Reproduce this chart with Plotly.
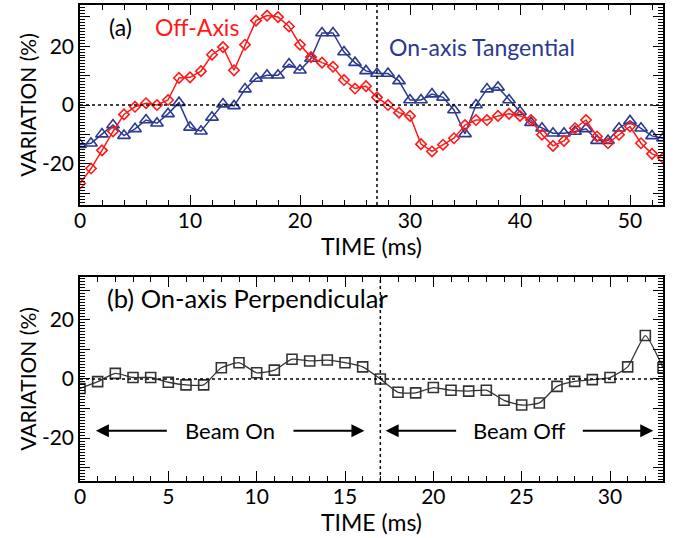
import plotly.graph_objects as go

# ---- data -------------------------------------------------------------
time_a = list(range(54))          # ms
off_axis = [-26.7, -21.6, -15.4, -9.0, -3.2, -0.6, 0.6, 0.0, 1.7, 9.2,
            9.4, 11.5, 17.1, 19.7, 11.8, 20.5, 28.7, 30.4, 29.9, 26.7,
            20.5, 16.3, 14.4, 13.0, 8.5, 5.6, 6.4, 2.6, 0.0, -2.6,
            -3.7, -13.3, -15.8, -13.5, -11.3, -6.8, -5.1, -5.1, -3.7, -3.0,
            -3.7, -5.1, -10.1, -13.9, -12.2, -7.9, -5.1, -10.7, -13.0, -10.1,
            -7.3, -13.0, -16.6, -18.0]
on_axis_tangential = [-13.5, -13.0, -9.9, -6.8, -10.4, -8.1, -5.1, -6.2, -3.0, 0.8,
                      -7.6, -8.9, -4.2, 0.3, -0.3, 5.4, 9.0, 10.1, 10.1, 13.9,
                      11.8, 15.8, 24.5, 24.5, 18.0, 14.4, 11.6, 10.7, 10.7, 8.2,
                      1.7, 1.7, 3.7, 2.6, -1.7, -9.8, 0.0, 5.4, 6.0, 1.7,
                      -2.3, -6.0, -7.9, -9.6, -9.6, -9.0, -8.1, -12.1, -12.1, -7.9,
                      -5.4, -7.9, -10.5, -11.3]

time_b = list(range(34))          # ms
on_axis_perpendicular = [-3.2, -0.9, 1.9, 0.5, 0.5, -1.1, -2.0, -2.0, 3.8, 5.5,
                         2.1, 3.0, 6.7, 6.1, 6.4, 5.5, 4.1, 0.0, -4.5, -4.7,
                         -2.9, -3.8, -4.1, -3.8, -7.2, -8.8, -8.1, -2.5, -0.8, -0.2,
                         0.5, 4.1, 14.7, 3.8]

marker_time_a = 27                # dotted time marker, panel (a)
marker_time_b = 17                # beam switch-off time, panel (b)
beam_on_span = (0.9, 16.1)
beam_off_span = (17.3, 32.45)
beam_arrow_level = -17.5

y_tick_vals = [-30, -20, -10, 0, 10, 20, 30]
y_tick_text = ["", "-20", "", "0", "", "20", ""]

FONT = "Lato"
RED = "#ff1a1a"
NAVY = "#2b3990"
DARK = "#333333"

fig = go.Figure()

fig.add_trace(go.Scatter(
    x=time_a, y=on_axis_tangential, mode="lines+markers",
    line=dict(color=NAVY, width=1.5),
    marker=dict(symbol="triangle-up-open", size=11, color=NAVY, line=dict(width=1.6)),
    xaxis="x", yaxis="y", showlegend=False))
fig.add_trace(go.Scatter(
    x=time_a, y=off_axis, mode="lines+markers",
    line=dict(color=RED, width=1.5),
    marker=dict(symbol="diamond-open", size=8, color=RED, line=dict(width=1.6)),
    xaxis="x", yaxis="y", showlegend=False))
fig.add_trace(go.Scatter(
    x=time_b, y=on_axis_perpendicular, mode="lines+markers",
    line=dict(color=DARK, width=1.3, shape="spline", smoothing=0.5),
    marker=dict(symbol="square-open", size=10, color=DARK, line=dict(width=1.6)),
    xaxis="x2", yaxis="y2", showlegend=False, cliponaxis=True))

dot = dict(color="black", width=1.5, dash="dot")
shapes = [
    dict(type="line", xref="x domain", yref="y", x0=0, x1=1, y0=0, y1=0, line=dot),
    dict(type="line", xref="x", yref="y domain", x0=marker_time_a, x1=marker_time_a, y0=0, y1=1, line=dot),
    dict(type="line", xref="x2 domain", yref="y2", x0=0, x1=1, y0=0, y1=0, line=dot),
    dict(type="line", xref="x2", yref="y2 domain", x0=marker_time_b, x1=marker_time_b, y0=0, y1=1, line=dot),
]

label_font = dict(family=FONT, size=23, color="black")
annotations = [
    dict(text="(a)", xref="x domain", yref="y domain", x=0.046, y=0.89,
         xanchor="left", yanchor="middle", showarrow=False, font=label_font),
    dict(text="Off-Axis", xref="x domain", yref="y domain", x=0.125, y=0.89,
         xanchor="left", yanchor="middle", showarrow=False, font=dict(family=FONT, size=23, color=RED)),
    dict(text="On-axis Tangential", xref="x domain", yref="y domain", x=0.527, y=0.79,
         xanchor="left", yanchor="middle", showarrow=False, font=dict(family=FONT, size=23, color=NAVY)),
    dict(text="(b) On-axis Perpendicular", xref="x2 domain", yref="y2 domain", x=0.043, y=0.897,
         xanchor="left", yanchor="middle", showarrow=False, font=dict(family=FONT, size=25.5, color="black")),
]


def beam_label(span, text):
    lo, hi = span
    mid = (lo + hi) / 2
    half_gap = 3.5
    arrow = dict(xref="x2", yref="y2", axref="x2", ayref="y2", text="",
                 showarrow=True, arrowhead=2, arrowsize=1.3, arrowwidth=2,
                 arrowcolor="black", standoff=0, startstandoff=0)
    return [
        dict(arrow, x=lo, y=beam_arrow_level, ax=mid - half_gap, ay=beam_arrow_level),
        dict(arrow, x=hi, y=beam_arrow_level, ax=mid + half_gap, ay=beam_arrow_level),
        dict(text=text, xref="x2", yref="y2", x=mid, y=beam_arrow_level, showarrow=False,
             xanchor="center", yanchor="middle", font=dict(family=FONT, size=22, color="black")),
    ]


annotations += beam_label(beam_on_span, "Beam On")
annotations += beam_label(beam_off_span, "Beam Off")

axis_common = dict(showline=True, linecolor="black", linewidth=1.5, mirror="ticks",
                   ticks="inside", ticklen=10, tickwidth=1.3, tickcolor="black",
                   showgrid=False, zeroline=False, automargin=False,
                   tickfont=dict(family=FONT, size=21, color="black"))
x_title = dict(text="TIME (ms)", font=dict(family=FONT, size=23, color="black"), standoff=0)
y_title = dict(text="VARIATION (%)", font=dict(family=FONT, size=21, color="black"), standoff=0)

fig.update_layout(
    width=684, height=538,
    margin=dict(l=80, r=21, t=5, b=57),
    paper_bgcolor="white", plot_bgcolor="white",
    shapes=shapes, annotations=annotations,
    xaxis=dict(axis_common, domain=[0, 1], anchor="y", range=[0, 53],
               tickvals=[0, 10, 20, 30, 40, 50], title=x_title, ticklabelstandoff=-4,
               minor=dict(dtick=2, ticks="inside", ticklen=5, tickcolor="black")),
    yaxis=dict(axis_common, domain=[0.5798, 1], anchor="x", range=[-34, 34],
               tickvals=y_tick_vals, ticktext=y_tick_text, title=y_title,
               minor=dict(dtick=1, ticks="inside", ticklen=5, tickcolor="black")),
    xaxis2=dict(axis_common, domain=[0, 1], anchor="y2", range=[0, 33],
                tickvals=[0, 5, 10, 15, 20, 25, 30], title=x_title, ticklabelstandoff=-4,
                minor=dict(dtick=1, ticks="inside", ticklen=5, tickcolor="black")),
    yaxis2=dict(axis_common, domain=[0, 0.4286], anchor="x2", range=[-34.5, 34.5],
                tickvals=y_tick_vals, ticktext=y_tick_text, title=y_title,
                minor=dict(dtick=1, ticks="inside", ticklen=5, tickcolor="black")),
)

fig.write_html("out.html")
